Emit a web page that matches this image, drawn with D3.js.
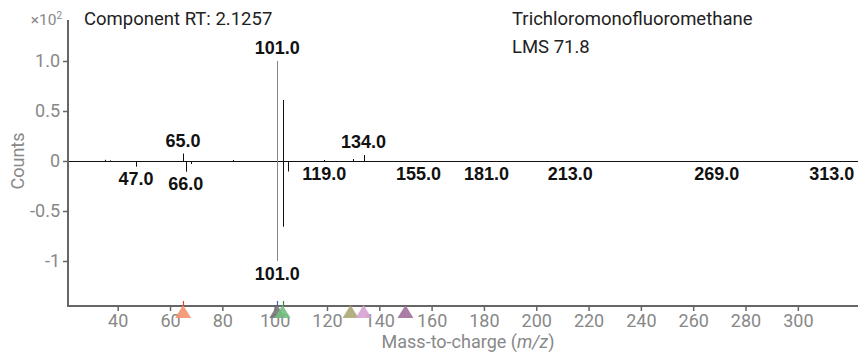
<!DOCTYPE html>
<html>
<head>
<meta charset="utf-8">
<script src="https://cdn.jsdelivr.net/npm/d3@7"></script>
<style>
  html, body { margin: 0; padding: 0; background: #fff; }
  svg { display: block; }
  .peak-label { font-family: "Liberation Sans", Arial, sans-serif; font-weight: bold; font-size: 18px; fill: #111; }
  .info { font-family: Roboto, "Noto Sans", sans-serif; font-size: 18.5px; fill: #222; }
  .axis-text { font-family: Roboto, "Noto Sans", sans-serif; font-size: 18px; fill: #888; }
</style>
</head>
<body>
<svg id="chart" width="860" height="354"></svg>
<script>
// Acquired spectrum (upward), intensity in units of x10^2
const sampleMz     = [35, 37, 65, 84, 101, 103, 119, 130, 134];
const sampleInt    = [0.012, 0.006, 0.075, 0.01, 1.0, 0.61, 0.01, 0.02, 0.06];
const sampleLabels = [65, 101, 134];

// Library spectrum (mirrored downward)
const libraryMz     = [47, 66, 68, 101, 103, 105, 119, 155, 181, 213, 269, 313];
const libraryInt    = [0.057, 0.107, 0.03, 1.0, 0.657, 0.105, 0.006, 0.004, 0.004, 0.004, 0.004, 0.004];
const libraryLabels = [47, 66, 101, 119, 155, 181, 213, 269, 313];

// Ion markers along the m/z axis
const markerMz     = [65, 101, 103, 129, 134, 150];
const markerColors = ["#f4916c", "#777777", "#72bf82", "#aba777", "#d7a2d0", "#a0709a"];
const markerTicks  = ["#e03a2a", "#4a5fa8", "#2f8a45", null, null, null];

const xTicks      = [40, 60, 80, 100, 120, 140, 160, 180, 200, 220, 240, 260, 280, 300];
const yTickValues = [1.0, 0.5, 0, -0.5, -1.0];
const yTickLabels = ["1.0", "0.5", "0", "-0.5", "-1"];

const basePeak = 101;

const svg = d3.select("#chart");
const plot = { left: 68, right: 858, top: 20, bottom: 306 };

const x = d3.scaleLinear().domain([21, 323]).range([plot.left, plot.right]);
const y = d3.scaleLinear().domain([-1.45, 1.41]).range([plot.bottom, plot.top]);

const axisColor = "#666";

// Left axis
const yAxis = svg.append("g")
  .attr("transform", `translate(${plot.left},0)`)
  .call(d3.axisLeft(y).tickValues(yTickValues).tickFormat((d, i) => yTickLabels[i]).tickSize(5).tickPadding(3));
yAxis.select(".domain").attr("stroke", axisColor).attr("stroke-width", 2)
  .attr("d", `M0,${plot.top}V${plot.bottom}`);
yAxis.selectAll(".tick line").attr("stroke", axisColor).attr("stroke-width", 1.5);
yAxis.selectAll(".tick text").attr("class", "axis-text").attr("font-family", null).attr("font-size", null).attr("fill", null);

// Bottom axis
const xAxis = svg.append("g")
  .attr("transform", `translate(0,${plot.bottom})`)
  .call(d3.axisBottom(x).tickValues(xTicks).tickSize(5).tickPadding(3));
xAxis.select(".domain").attr("stroke", axisColor).attr("stroke-width", 2)
  .attr("d", `M${plot.left - 1},0H${plot.right}`);
xAxis.selectAll(".tick line").attr("stroke", axisColor).attr("stroke-width", 1.5);
xAxis.selectAll(".tick text").attr("class", "axis-text").attr("font-family", null).attr("font-size", null).attr("fill", null);

// Zero line
svg.append("line")
  .attr("x1", plot.left + 1).attr("x2", plot.right)
  .attr("y1", Math.round(y(0)) + 0.5).attr("y2", Math.round(y(0)) + 0.5)
  .attr("stroke", "#111").attr("stroke-width", 1);

const sample = sampleMz.map((m, i) => ({ mz: m, v: sampleInt[i] }));
const library = libraryMz.map((m, i) => ({ mz: m, v: -libraryInt[i] }));
const px = m => Math.round(x(m)) + 0.5;

// Spectrum sticks
svg.append("g").selectAll("line").data(sample.concat(library)).join("line")
  .attr("x1", d => px(d.mz)).attr("x2", d => px(d.mz))
  .attr("y1", y(0)).attr("y2", d => y(d.v))
  .attr("stroke", d => d.mz === basePeak ? "#888" : "#111")
  .attr("stroke-width", 1);

// Peak labels
svg.append("g").selectAll("text").data(sample.filter(d => sampleLabels.includes(d.mz))).join("text")
  .attr("class", "peak-label")
  .attr("x", d => x(d.mz)).attr("y", d => y(d.v) - 7)
  .attr("text-anchor", "middle")
  .text(d => d.mz.toFixed(1));

svg.append("g").selectAll("text").data(library.filter(d => libraryLabels.includes(d.mz))).join("text")
  .attr("class", "peak-label")
  .attr("x", d => x(d.mz)).attr("y", d => y(d.v) + 18.5)
  .attr("text-anchor", "middle")
  .text(d => d.mz.toFixed(1));

// Ion markers
const markers = svg.append("g");
markerMz.forEach((m, i) => {
  const cx = x(m);
  markers.append("path")
    .attr("d", `M${cx},${plot.bottom - 1}L${cx + 8},${plot.bottom + 12}L${cx - 8},${plot.bottom + 12}Z`)
    .attr("fill", markerColors[i]).attr("fill-opacity", 0.9);
  if (markerTicks[i]) {
    markers.append("line")
      .attr("x1", px(m)).attr("x2", px(m))
      .attr("y1", plot.bottom - 5).attr("y2", plot.bottom)
      .attr("stroke", markerTicks[i]).attr("stroke-width", 1.2);
  }
});

// Header text
svg.append("text").attr("class", "info").attr("x", 84).attr("y", 25).text("Component RT: 2.1257");
svg.append("text").attr("class", "info").attr("x", 512).attr("y", 25).text("Trichloromonofluoromethane");
svg.append("text").attr("class", "info").attr("x", 512).attr("y", 53).text("LMS 71.8");

// Scale factor
const sf = svg.append("text").attr("x", 62).attr("y", 25).attr("text-anchor", "end")
  .attr("font-family", "Roboto, sans-serif").attr("font-size", 15.5).attr("fill", "#888");
sf.append("tspan").text("×10");
sf.append("tspan").attr("font-size", 10).attr("dy", -6).text("2");

// Axis titles
svg.append("text").attr("class", "axis-text")
  .attr("transform", `translate(24,${y(0)}) rotate(-90)`)
  .attr("text-anchor", "middle").text("Counts");

const xt = svg.append("text").attr("class", "axis-text")
  .attr("x", 468).attr("y", 348).attr("text-anchor", "middle");
xt.append("tspan").text("Mass-to-charge (");
xt.append("tspan").attr("font-style", "italic").text("m/z");
xt.append("tspan").text(")");
</script>
</body>
</html>
